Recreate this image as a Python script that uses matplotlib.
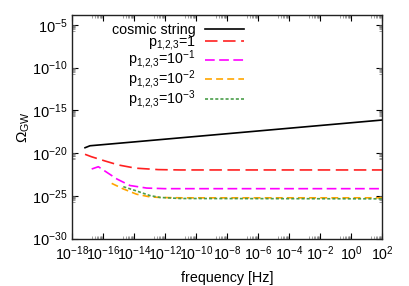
import numpy as np
import matplotlib
matplotlib.use("Agg")
import matplotlib.pyplot as plt
from matplotlib.ticker import FixedLocator, LogFormatterSciNotation, NullFormatter

plt.rcParams['font.family'] = ['Liberation Sans', 'DejaVu Sans']
plt.rcParams['mathtext.fontset'] = 'custom'
plt.rcParams['mathtext.rm'] = 'Liberation Sans'
plt.rcParams['mathtext.it'] = 'Liberation Sans'
plt.rcParams['mathtext.bf'] = 'Liberation Sans'
plt.rcParams['lines.scale_dashes'] = False

# values, as log10(frequency) and log10(Omega_GW)
string_logf = [-17.16, -16.84, -14.0, -12.0, -10.0, -8.0, -6.0, -4.0, -2.0, 0.0, 2.0]
string_logo = [-19.38, -19.15, -18.70, -18.38, -18.06, -17.74, -17.42, -17.10, -16.78, -16.46, -16.14]

p1_logf = [-17.16, -16.75, -15.87, -15.0, -13.9, -12.43, -11.0, 2.0]
p1_logo = [-20.15, -20.43, -20.93, -21.40, -21.77, -21.94, -21.98, -21.98]

p01_logf = [-16.73, -16.30, -15.76, -15.10, -14.26, -13.18, -12.0, 2.0]
p01_logo = [-21.87, -21.60, -22.25, -23.04, -23.80, -24.10, -24.17, -24.17]

p001_logf = [-15.44, -14.69, -13.83, -12.97, -12.30, -11.0, 2.0]
p001_logo = [-23.55, -24.20, -24.82, -25.13, -25.20, -25.24, -25.24]

p0001_logf = [-14.69, -13.83, -12.97, -12.30, -11.0, 2.0]
p0001_logo = [-23.94, -24.44, -24.98, -25.20, -25.32, -25.36]

series = [
    ('cosmic string', string_logf, string_logo, 'black', None),
    ('p$_{1{,}2{,}3}$=1', p1_logf, p1_logo, '#ff2020', (9, 4)),
    ('p$_{1{,}2{,}3}$=10$^{-1}$', p01_logf, p01_logo, '#ff00ff', (7, 3.2)),
    ('p$_{1{,}2{,}3}$=10$^{-2}$', p001_logf, p001_logo, '#ffa500', (5, 3)),
    ('p$_{1{,}2{,}3}$=10$^{-3}$', p0001_logf, p0001_logo, '#4a9e4a', (2.2, 1.5)),
]

fig = plt.figure(figsize=(4.09, 2.86), dpi=100)
ax = fig.add_axes([72/409, 1-238.5/286, 310/409, 223.5/286])

for label, lf, lo, color, dash in series:
    f = 10.0 ** np.array(lf)
    o = 10.0 ** np.array(lo)
    line, = ax.plot(f, o, color=color, lw=1.2, label=label)
    if dash is not None:
        line.set_dashes(dash)

ax.set_xscale('log')
ax.set_yscale('log')
ax.set_xlim(1e-18, 1e2)
ax.set_ylim(1e-30, 10**-3.85)

xmaj = [10.0**k for k in range(-18, 3, 2)]
ymaj = [10.0**k for k in range(-30, -4, 5)]
ax.xaxis.set_major_locator(FixedLocator(xmaj))
ax.yaxis.set_major_locator(FixedLocator(ymaj))
# gnuplot-like minor tics: only in the decade just below each major tic
ax.xaxis.set_minor_locator(FixedLocator([m * s / 10 for m in xmaj for s in range(2, 10)]))
ax.yaxis.set_minor_locator(FixedLocator([m * s / 10 for m in ymaj for s in range(2, 10)]))
ax.xaxis.set_major_formatter(LogFormatterSciNotation())
ax.yaxis.set_major_formatter(LogFormatterSciNotation())
ax.xaxis.set_minor_formatter(NullFormatter())
ax.yaxis.set_minor_formatter(NullFormatter())

ax.tick_params(which='both', direction='in', top=True, right=True, labelsize=10.5)
ax.tick_params(axis='x', which='major', labelsize=10.2)
ax.tick_params(which='major', length=4, width=0.8, pad=4)
ax.tick_params(which='minor', length=2, width=0.5, color='#777777')
ax.tick_params(axis='y', which='major', pad=3)
for sp in ax.spines.values():
    sp.set_linewidth(1.0)
    sp.set_color('#222222')

ax.set_xlabel('frequency [Hz]', fontsize=10.3, labelpad=6)
ax.set_ylabel(r'$\Omega_{\rm GW}$', fontsize=11, labelpad=0)

ax.legend(loc='upper right', bbox_to_anchor=(0.555, 0.966), frameon=False,
          markerfirst=False, fontsize=10.3, handlelength=2.7, handletextpad=0.65,
          labelspacing=-0.2, borderpad=0, borderaxespad=0)

fig.savefig('out.png', dpi=100)
